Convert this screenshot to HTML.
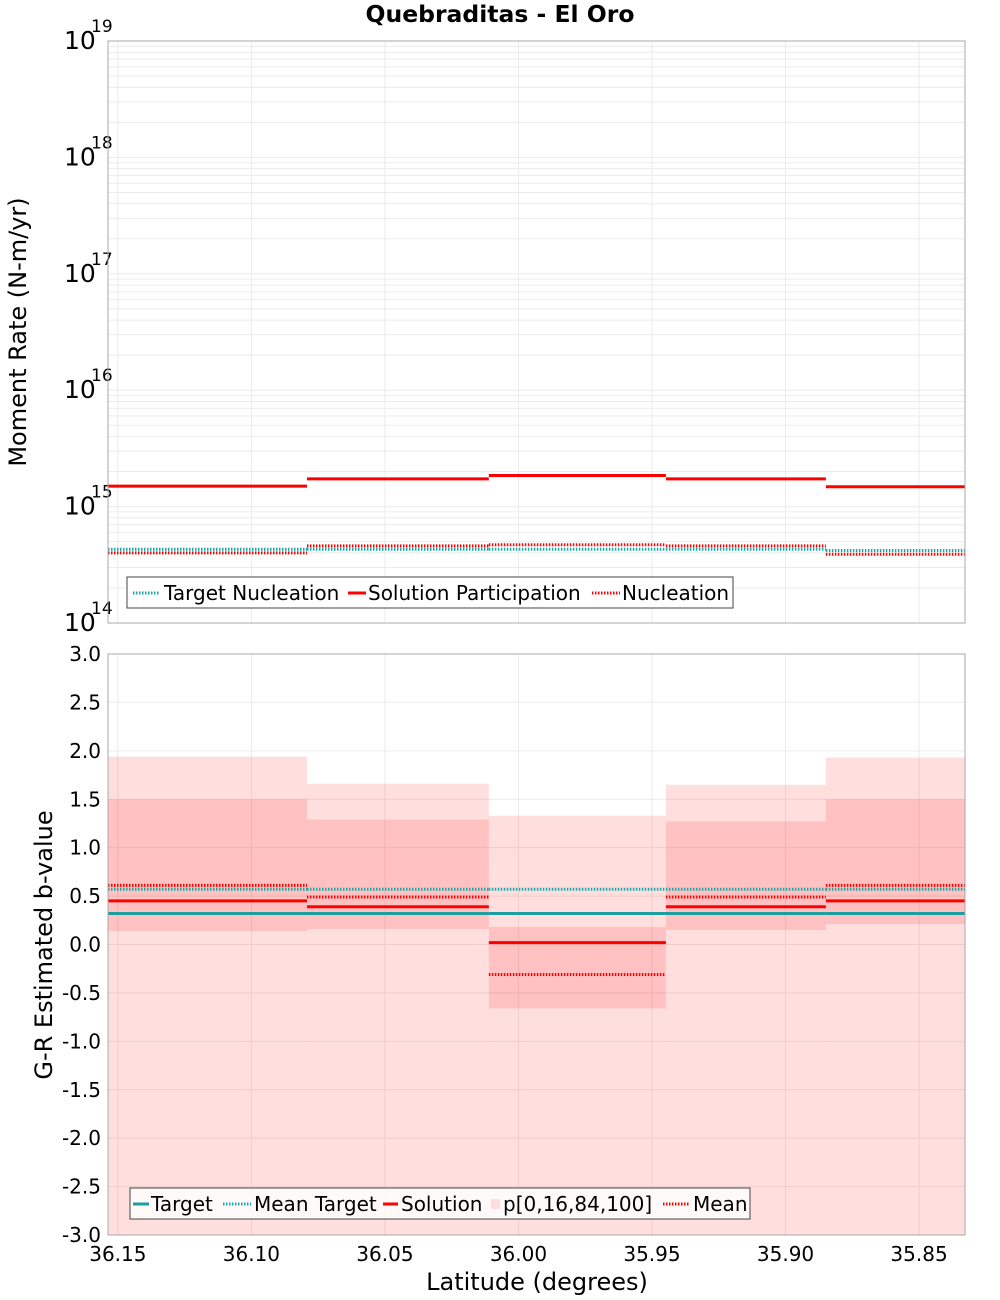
<!DOCTYPE html>
<html><head><meta charset="utf-8"><style>
html,body{margin:0;padding:0;background:#fff;}
svg{display:block;font-family:"DejaVu Sans","Liberation Sans",sans-serif;}
</style></head><body>
<svg id="chart" width="1000" height="1300" viewBox="0 0 1000 1300" xmlns="http://www.w3.org/2000/svg">
<g id="gtop"></g><g id="gbot"></g>
<text x="500" y="22" text-anchor="middle" font-size="23.5" font-weight="bold">Quebraditas - El Oro</text>
<text transform="translate(26,332) rotate(-90)" text-anchor="middle" font-size="24">Moment Rate (N-m/yr)</text>
<text transform="translate(52,945) rotate(-90)" text-anchor="middle" font-size="24">G-R Estimated b-value</text>
<text x="537" y="1290" text-anchor="middle" font-size="24">Latitude (degrees)</text>
<g font-size="20">
<rect x="127" y="577" width="606" height="31" fill="#fff" stroke="#444"/>
<line x1="133" x2="160" y1="593" y2="593" stroke="#1aa8a8" stroke-width="3" stroke-dasharray="1.5 1.5"/>
<text x="164" y="600">Target Nucleation</text>
<line x1="348" x2="366" y1="593" y2="593" stroke="#f00" stroke-width="3"/>
<text x="368" y="600">Solution Participation</text>
<line x1="592" x2="620" y1="593" y2="593" stroke="#f00" stroke-width="3" stroke-dasharray="1.5 1.5"/>
<text x="622" y="600">Nucleation</text>
</g>
<g font-size="20">
<rect x="130" y="1188" width="620" height="31" fill="#fff" fill-opacity="0.85" stroke="#444"/>
<line x1="133" x2="149" y1="1204" y2="1204" stroke="#1a9e9e" stroke-width="3"/>
<text x="151" y="1211">Target</text>
<line x1="223" x2="251" y1="1204" y2="1204" stroke="#1aa8a8" stroke-width="3" stroke-dasharray="1.5 1.5"/>
<text x="254" y="1211">Mean Target</text>
<line x1="383" x2="398" y1="1204" y2="1204" stroke="#f00" stroke-width="3"/>
<text x="401" y="1211">Solution</text>
<rect x="491" y="1199" width="9" height="10" fill="#fdd"/>
<text x="503" y="1211">p[0,16,84,100]</text>
<line x1="663" x2="690" y1="1204" y2="1204" stroke="#f00" stroke-width="3" stroke-dasharray="1.5 1.5"/>
<text x="693" y="1211">Mean</text>
</g>
</svg>
<script>
const edges = [36.1537, 36.0792, 36.0111, 35.9448, 35.8849, 35.8328];
const xTicks = [36.15, 36.10, 36.05, 36.00, 35.95, 35.90, 35.85];
const solutionPart = [1.5e15, 1.73e15, 1.85e15, 1.73e15, 1.48e15];
const targetNucl = [4.3e14, 4.3e14, 4.3e14, 4.3e14, 4.2e14];
const nucleation = [4.0e14, 4.6e14, 4.7e14, 4.6e14, 3.9e14];
const bTarget = [0.32, 0.32, 0.32, 0.32, 0.32];
const bMeanTarget = [0.57, 0.57, 0.57, 0.57, 0.57];
const bSolution = [0.45, 0.39, 0.02, 0.39, 0.45];
const bMean = [0.61, 0.49, -0.31, 0.49, 0.61];
const p0 = [-3.5, -3.5, -3.5, -3.5, -3.5];
const p16 = [0.14, 0.16, -0.66, 0.15, 0.21];
const p84 = [1.50, 1.29, 0.18, 1.27, 1.50];
const p100 = [1.94, 1.66, 1.33, 1.65, 1.93];
const yTicksB = [-3.0,-2.5,-2.0,-1.5,-1.0,-0.5,0.0,0.5,1.0,1.5,2.0,2.5,3.0];
const decades = [14,15,16,17,18,19];

const NS='http://www.w3.org/2000/svg';
const L=108,R=965,T1=41,B1=623,T2=654,B2=1235;
const X=v=>L+(36.1537-v)/(36.1537-35.8328)*(R-L);
const Y1=v=>B1-(Math.log10(v)-14)/5*(B1-T1);
const Y2=v=>B2-(v+3)/6*(B2-T2);
function mk(p,tag,a){const e=document.createElementNS(NS,tag);for(const k in a)e.setAttribute(k,a[k]);p.appendChild(e);return e;}
const gTop=document.getElementById('gtop'),gBot=document.getElementById('gbot');

mk(gTop,'rect',{x:L,y:T1,width:R-L,height:B1-T1,fill:'#fff'});
for(let d=14;d<19;d++)for(let m=1;m<10;m++){const y=Y1(m*Math.pow(10,d));
 const g=mk(gTop,'line',{x1:L,x2:R,y1:y,y2:y,stroke:'#ebebeb','stroke-width':1});
 
 }
xTicks.forEach(t=>{const x=X(t);
 const g=mk(gTop,'line',{x1:x,x2:x,y1:T1,y2:B1,stroke:'#ebebeb'});
 
 
 const g2=mk(gBot,'line',{x1:x,x2:x,y1:T2,y2:B2,stroke:'#ebebeb'});
 
 
 const tx=mk(gBot,'text',{x:x,y:1261,'text-anchor':'middle','font-size':20});
 tx.textContent=t.toFixed(2);
 
 });
decades.forEach(d=>{const y=Y1(Math.pow(10,d));
 const t=mk(gTop,'text',{x:64,y:y+8,'text-anchor':'start','font-size':25});
 t.textContent='10';
 
 
 const s=mk(gTop,'text',{x:91,y:y-9,'font-size':17});
 s.textContent=String(d);
 
 });
function steps(g,arr,yf,color,w,dash,name){arr.forEach((v,i)=>{
 const a={x1:X(edges[i]),x2:X(edges[i+1]),y1:yf(v),y2:yf(v),stroke:color,'stroke-width':w};
 if(dash)a['stroke-dasharray']=dash;
 const l=mk(g,'line',a);
 
 });}
steps(gTop,targetNucl,Y1,'#1aa8a8',3,'1.5 1.5','target-nucleation');
steps(gTop,nucleation,Y1,'#ff0000',3,'1.5 1.5','nucleation');
steps(gTop,solutionPart,Y1,'#ff0000',3,null,'solution-participation');
mk(gTop,'rect',{x:L,y:T1,width:R-L,height:B1-T1,fill:'none',stroke:'#aaa'});

yTicksB.forEach(t=>{const y=Y2(t);
 const g=mk(gBot,'line',{x1:L,x2:R,y1:y,y2:y,stroke:'#ebebeb'});
 
 
 const tx=mk(gBot,'text',{x:101,y:y+7,'text-anchor':'end','font-size':20});
 tx.textContent=t.toFixed(1);
 
 });
const clip=mk(gBot,'clipPath',{id:'cb'});mk(clip,'rect',{x:L,y:T2,width:R-L,height:B2-T2});
const band=mk(gBot,'g',{'clip-path':'url(#cb)'});
p100.forEach((v,i)=>{const x1=X(edges[i]),x2=X(edges[i+1]);
 const r=mk(band,'rect',{x:x1,y:Y2(v),width:x2-x1,height:Y2(p0[i])-Y2(v),fill:'#ff0000','fill-opacity':0.13});
 
 
 const r2=mk(band,'rect',{x:x1,y:Y2(p84[i]),width:x2-x1,height:Y2(p16[i])-Y2(p84[i]),fill:'#ff0000','fill-opacity':0.13});
 
 });
steps(gBot,bMeanTarget,Y2,'#1aa8a8',3,'1.5 1.5','mean-target');
steps(gBot,bMean,Y2,'#ff0000',3,'1.5 1.5','mean');
steps(gBot,bTarget,Y2,'#1a9e9e',3,null,'target');
steps(gBot,bSolution,Y2,'#ff0000',3,null,'solution');
mk(gBot,'rect',{x:L,y:T2,width:R-L,height:B2-T2,fill:'none',stroke:'#aaa'});
</script>
</body></html>
